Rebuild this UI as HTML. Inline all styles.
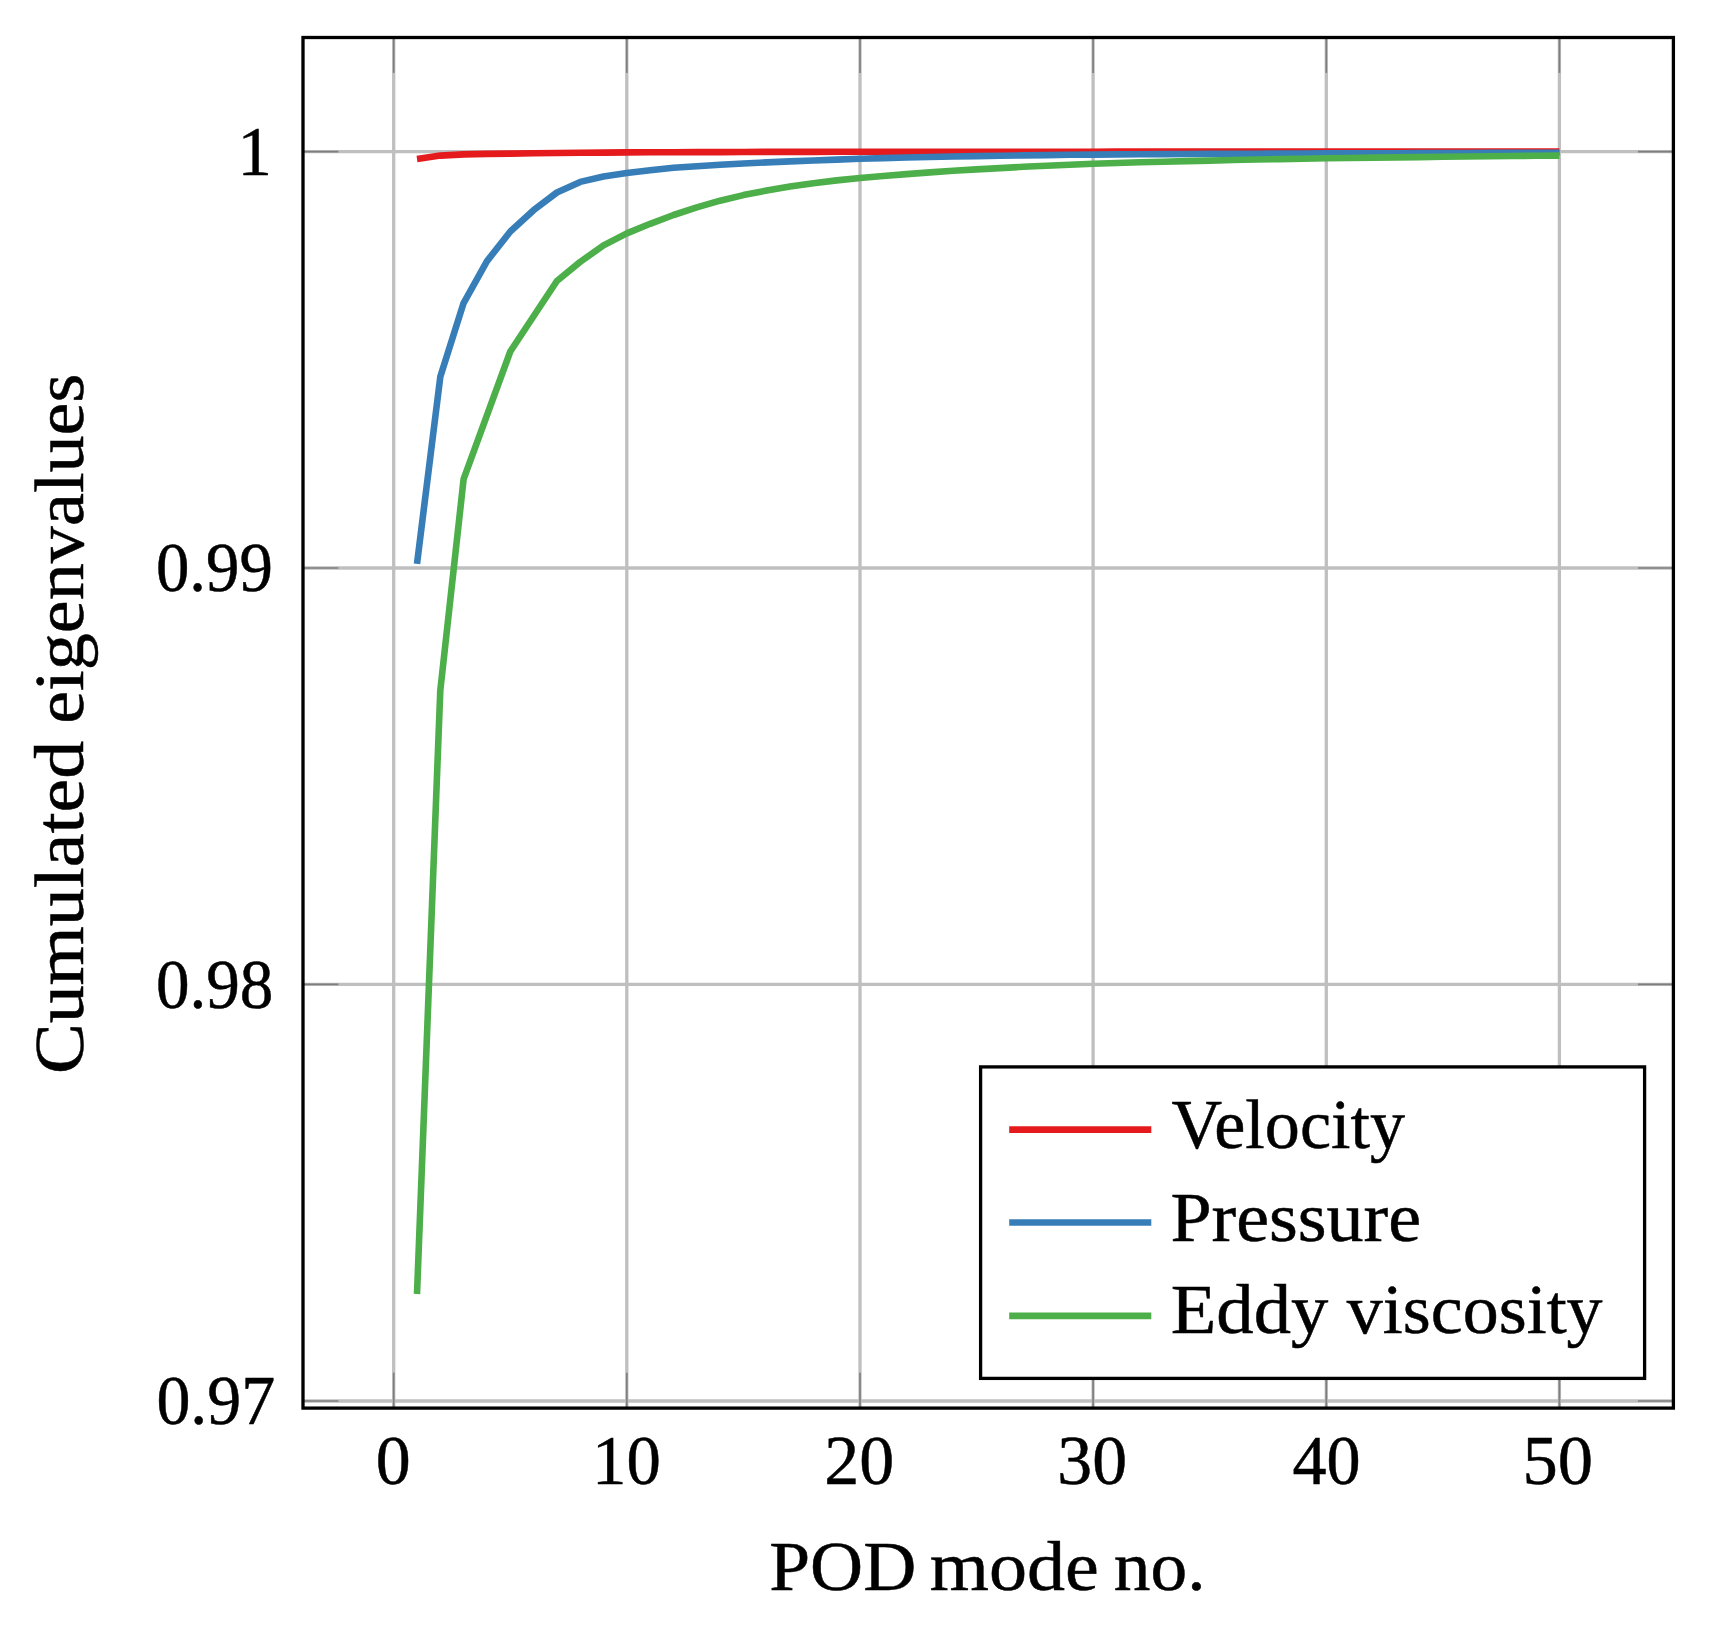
<!DOCTYPE html>
<html><head><meta charset="utf-8"><title>Cumulated eigenvalues</title>
<style>html,body{margin:0;padding:0;background:#fff}svg{display:block}text{font-family:"Liberation Serif",serif;font-size:70px;fill:#000;stroke:#000;stroke-width:0.5}</style></head><body>
<svg width="1712" height="1628" viewBox="0 0 1712 1628">
<rect width="1712" height="1628" fill="#fff"/>
<g stroke="#bfbfbf" stroke-width="3.3" fill="none">
<line x1="393.7" y1="37.5" x2="393.7" y2="1408.1"/>
<line x1="626.8" y1="37.5" x2="626.8" y2="1408.1"/>
<line x1="860.0" y1="37.5" x2="860.0" y2="1408.1"/>
<line x1="1093.1" y1="37.5" x2="1093.1" y2="1408.1"/>
<line x1="1326.3" y1="37.5" x2="1326.3" y2="1408.1"/>
<line x1="1559.4" y1="37.5" x2="1559.4" y2="1408.1"/>
<line x1="303.0" y1="151.6" x2="1673.4" y2="151.6"/>
<line x1="303.0" y1="568.0" x2="1673.4" y2="568.0"/>
<line x1="303.0" y1="984.4" x2="1673.4" y2="984.4"/>
<line x1="303.0" y1="1401.0" x2="1673.4" y2="1401.0"/>
</g>
<g stroke="#7f7f7f" stroke-width="1.7" fill="none">
<line x1="393.7" y1="37.5" x2="393.7" y2="72.9"/>
<line x1="393.7" y1="1408.1" x2="393.7" y2="1372.6999999999998"/>
<line x1="626.8" y1="37.5" x2="626.8" y2="72.9"/>
<line x1="626.8" y1="1408.1" x2="626.8" y2="1372.6999999999998"/>
<line x1="860.0" y1="37.5" x2="860.0" y2="72.9"/>
<line x1="860.0" y1="1408.1" x2="860.0" y2="1372.6999999999998"/>
<line x1="1093.1" y1="37.5" x2="1093.1" y2="72.9"/>
<line x1="1093.1" y1="1408.1" x2="1093.1" y2="1372.6999999999998"/>
<line x1="1326.3" y1="37.5" x2="1326.3" y2="72.9"/>
<line x1="1326.3" y1="1408.1" x2="1326.3" y2="1372.6999999999998"/>
<line x1="1559.4" y1="37.5" x2="1559.4" y2="72.9"/>
<line x1="1559.4" y1="1408.1" x2="1559.4" y2="1372.6999999999998"/>
<line x1="303.0" y1="151.6" x2="338.4" y2="151.6"/>
<line x1="1673.4" y1="151.6" x2="1638.0" y2="151.6"/>
<line x1="303.0" y1="568.0" x2="338.4" y2="568.0"/>
<line x1="1673.4" y1="568.0" x2="1638.0" y2="568.0"/>
<line x1="303.0" y1="984.4" x2="338.4" y2="984.4"/>
<line x1="1673.4" y1="984.4" x2="1638.0" y2="984.4"/>
<line x1="303.0" y1="1401.0" x2="338.4" y2="1401.0"/>
<line x1="1673.4" y1="1401.0" x2="1638.0" y2="1401.0"/>
</g>
<rect x="303.0" y="37.5" width="1370.4" height="1370.6" fill="none" stroke="#000" stroke-width="3.3"/>
<g fill="none" stroke-width="6.6" stroke-linejoin="round">
<polyline stroke="#e41a1c" points="417.0,158.9 440.3,155.6 463.6,154.4 487.0,153.9 510.3,153.6 533.6,153.3 556.9,153.0 580.2,152.8 603.5,152.6 626.8,152.4 650.2,152.3 673.5,152.2 696.8,152.1 720.1,152.1 743.4,152.0 766.7,151.9 790.0,151.9 813.4,151.9 836.7,151.8 860.0,151.8 883.3,151.8 906.6,151.8 929.9,151.7 953.2,151.7 976.5,151.7 999.9,151.7 1023.2,151.7 1046.5,151.7 1069.8,151.7 1093.1,151.7 1116.4,151.6 1139.7,151.6 1163.1,151.6 1186.4,151.6 1209.7,151.6 1233.0,151.6 1256.3,151.6 1279.6,151.6 1302.9,151.6 1326.3,151.6 1349.6,151.5 1372.9,151.5 1396.2,151.5 1419.5,151.5 1442.8,151.5 1466.1,151.5 1489.5,151.5 1512.8,151.5 1536.1,151.5 1559.4,151.5"/>
<polyline stroke="#377eb8" points="417.0,563.8 440.3,376.8 463.6,303.1 487.0,261.1 510.3,231.5 533.6,210.2 556.9,192.5 580.2,181.9 603.5,176.5 626.8,173.1 650.2,170.2 673.5,167.8 696.8,166.2 720.1,164.8 743.4,163.5 766.7,162.4 790.0,161.4 813.4,160.5 836.7,159.6 860.0,158.8 883.3,158.1 906.6,157.5 929.9,157.0 953.2,156.5 976.5,156.1 999.9,155.7 1023.2,155.4 1046.5,155.1 1069.8,154.8 1093.1,154.6 1116.4,154.4 1139.7,154.3 1163.1,154.1 1186.4,154.0 1209.7,153.9 1233.0,153.8 1256.3,153.7 1279.6,153.6 1302.9,153.5 1326.3,153.4 1349.6,153.3 1372.9,153.2 1396.2,153.2 1419.5,153.1 1442.8,153.1 1466.1,153.0 1489.5,152.9 1512.8,152.9 1536.1,152.8 1559.4,152.8"/>
<polyline stroke="#4daf4a" points="417.0,1294.0 440.3,690.3 463.6,479.2 510.3,351.5 556.9,281.0 580.2,261.9 603.5,245.4 626.8,233.4 650.2,223.8 673.5,215.0 696.8,207.4 720.1,200.7 743.4,195.1 766.7,190.5 790.0,186.6 813.4,183.2 836.7,180.4 860.0,178.0 883.3,176.0 906.6,174.1 929.9,172.4 953.2,170.8 976.5,169.4 999.9,168.1 1023.2,166.8 1046.5,165.7 1069.8,164.7 1093.1,163.8 1116.4,163.0 1139.7,162.3 1163.1,161.7 1186.4,161.1 1209.7,160.6 1233.0,160.0 1256.3,159.5 1279.6,159.1 1302.9,158.7 1326.3,158.3 1349.6,158.0 1372.9,157.6 1396.2,157.4 1419.5,157.1 1442.8,156.8 1466.1,156.5 1489.5,156.3 1512.8,156.0 1536.1,155.8 1559.4,155.6"/>
</g>
<rect x="980.6" y="1066.9" width="664" height="311.5" fill="#fff" stroke="#000" stroke-width="3.3"/>
<g stroke-width="6.6">
<line x1="1009.2" y1="1129.6" x2="1151.3" y2="1129.6" stroke="#e41a1c"/>
<line x1="1009.2" y1="1222.5" x2="1151.3" y2="1222.5" stroke="#377eb8"/>
<line x1="1009.2" y1="1315.9" x2="1151.3" y2="1315.9" stroke="#4daf4a"/>
</g>
<text x="237.49" y="175.1" textLength="34.36" lengthAdjust="spacingAndGlyphs">1</text>
<text x="155.98" y="591.0" textLength="116.83" lengthAdjust="spacingAndGlyphs">0.99</text>
<text x="155.98" y="1007.7" textLength="117.43" lengthAdjust="spacingAndGlyphs">0.98</text>
<text x="156.40" y="1424.0" textLength="118.80" lengthAdjust="spacingAndGlyphs">0.97</text>
<text x="375.70" y="1483.7" textLength="34.98" lengthAdjust="spacingAndGlyphs">0</text>
<text x="592.10" y="1483.7" textLength="68.79" lengthAdjust="spacingAndGlyphs">10</text>
<text x="824.35" y="1483.7" textLength="69.90" lengthAdjust="spacingAndGlyphs">20</text>
<text x="1057.33" y="1483.7" textLength="69.74" lengthAdjust="spacingAndGlyphs">30</text>
<text x="1292.41" y="1483.7" textLength="68.16" lengthAdjust="spacingAndGlyphs">40</text>
<text x="1522.48" y="1483.7" textLength="70.58" lengthAdjust="spacingAndGlyphs">50</text>
<text x="1171.41" y="1148.3" textLength="233.59" lengthAdjust="spacingAndGlyphs">Velocity</text>
<text x="1170.40" y="1240.5" textLength="250.59" lengthAdjust="spacingAndGlyphs">Pressure</text>
<text x="1170.83" y="1332.8" textLength="157.37" lengthAdjust="spacingAndGlyphs">Eddy</text>
<text x="1346.80" y="1332.8" textLength="255.80" lengthAdjust="spacingAndGlyphs">viscosity</text>
<text x="769.19" y="1590.1" textLength="147.02" lengthAdjust="spacingAndGlyphs">POD</text>
<text x="929.79" y="1590.1" textLength="169.01" lengthAdjust="spacingAndGlyphs">mode</text>
<text x="1113.78" y="1590.1" textLength="91.72" lengthAdjust="spacingAndGlyphs">no.</text>
<text transform="translate(82.5,1074.00) rotate(-90)" textLength="333.20" lengthAdjust="spacingAndGlyphs">Cumulated</text>
<text transform="translate(82.5,723.81) rotate(-90)" textLength="350.22" lengthAdjust="spacingAndGlyphs">eigenvalues</text>
</svg></body></html>
